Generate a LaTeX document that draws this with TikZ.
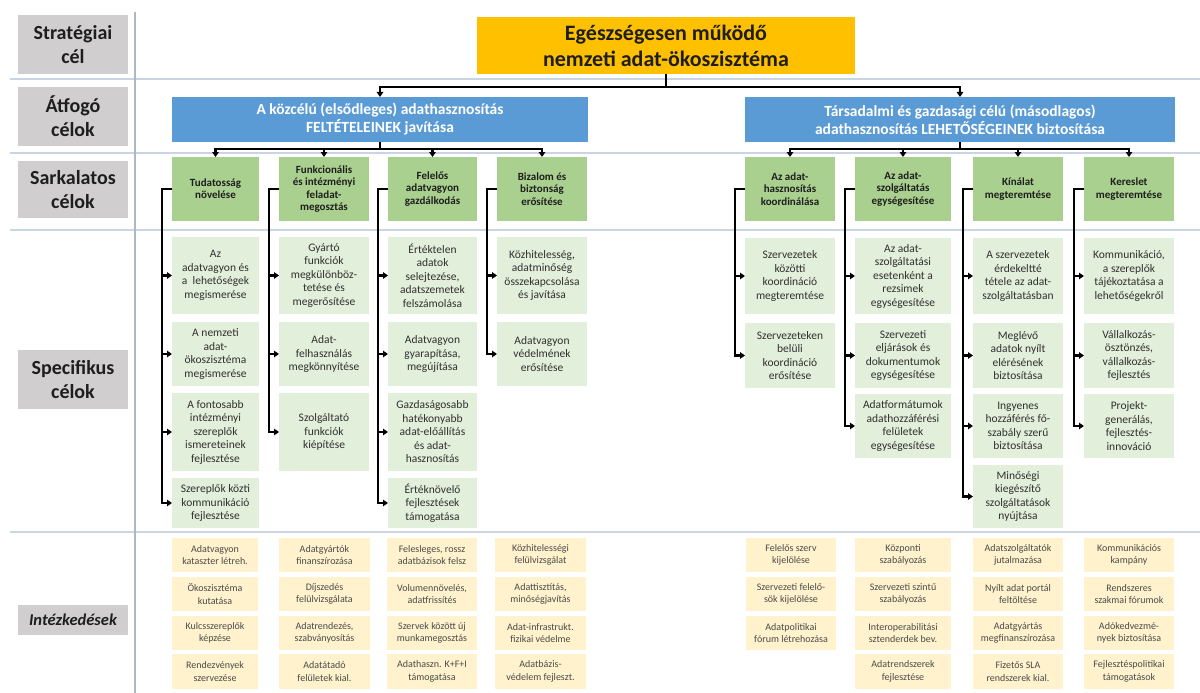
\documentclass[tikz,border=0pt]{standalone}
\usepackage{fontspec}
\setmainfont{Carlito}
\usetikzlibrary{arrows.meta}

\definecolor{lblgray}{HTML}{D0CECE}
\definecolor{goalfill}{HTML}{FFC000}
\definecolor{aimfill}{HTML}{5B9BD5}
\definecolor{keyfill}{HTML}{A9D08E}
\definecolor{specfill}{HTML}{E2EFDA}
\definecolor{actfill}{HTML}{FFF2CC}
\definecolor{sepline}{HTML}{C9D5E3}
\definecolor{divline}{HTML}{AAB7C7}
\definecolor{darktext}{HTML}{1E1E1E}
\definecolor{spectext}{HTML}{303030}
\definecolor{acttext}{HTML}{4A4A4A}

\tikzset{
  box/.style={anchor=north west, inner sep=0pt, outer sep=0pt, align=center},
  lbl/.style={box, fill=lblgray, text=darktext, minimum width=110pt,
    font=\fontsize{20}{24}\selectfont\bfseries},
  goal/.style={box, fill=goalfill, text=darktext,
    font=\fontsize{22}{26}\selectfont\bfseries},
  aim/.style={box, fill=aimfill, text=white,
    font=\fontsize{15.5}{18}\selectfont\bfseries},
  keygoal/.style={box, fill=keyfill, text=darktext, minimum height=64pt,
    font=\fontsize{11}{12.2}\selectfont\bfseries},
  spec/.style={box, fill=specfill, text=spectext,
    font=\fontsize{11.5}{13.5}\selectfont},
  act/.style={box, fill=actfill, text=acttext,
    font=\fontsize{10}{12.6}\selectfont},
  conn/.style={draw=black, line width=2.2pt,
    -{Triangle[length=5pt,width=6.5pt]}},
  sep/.style={draw=sepline, line width=2.6pt},
  divider/.style={draw=divline, line width=1.2pt},
}

\begin{document}
\begin{tikzpicture}[x=1pt,y=-1pt]
\useasboundingbox (0,0) rectangle (1200,693);

% row separators and the label column divider
\foreach \yy in {79,153,230,532}
  \draw[sep] (10,\yy) -- (1200,\yy);
\draw[divider] (135,12) -- (135,693);

% row labels
\node[lbl, minimum height=59pt] (lstrat) at (18,15) {Stratégiai\\cél};
\node[lbl, minimum height=59pt] (latf) at (18,87) {Átfogó\\célok};
\node[lbl, minimum height=57pt] (lsark) at (18,161) {Sarkalatos\\célok};
\node[lbl, minimum height=59pt] (lspec) at (18,350) {Specifikus\\célok};
\node[lbl, minimum height=30pt, font=\fontsize{16.5}{19}\selectfont\bfseries\itshape]
  (lint) at (18,605) {Intézkedések};

% strategic goal
\node[goal, minimum width=378pt, minimum height=57pt] (goal) at (477,17)
  {Egészségesen működő\\nemzeti adat-ökoszisztéma};

% overarching goals
\node[aim, minimum width=416pt, minimum height=45pt] (aimL) at (172,97)
  {A közcélú (elsődleges) adathasznosítás\\FELTÉTELEINEK javítása};
\node[aim, minimum width=430pt, minimum height=45pt] (aimR) at (745,97)
  {Társadalmi és gazdasági célú (másodlagos)\\adathasznosítás LEHETŐSÉGEINEK biztosítása};

% cardinal goals
\node[keygoal, minimum width=87pt] (kL1) at (172,157) {Tudatosság\\növelése};
\node[keygoal, minimum width=90pt] (kL2) at (279,157) {Funkcionális\\és intézményi\\feladat-\\megosztás};
\node[keygoal, minimum width=89pt] (kL3) at (388,157) {Felelős\\adatvagyon\\gazdálkodás};
\node[keygoal, minimum width=90pt] (kL4) at (497,157) {Bizalom és\\biztonság\\erősítése};
\node[keygoal, minimum width=90pt] (kR1) at (745,157) {Az adat-\\hasznosítás\\koordinálása};
\node[keygoal, minimum width=96pt] (kR2) at (855,157) {Az adat-\\szolgáltatás\\egységesítése};
\node[keygoal, minimum width=90pt] (kR3) at (973,157) {Kínálat\\megteremtése};
\node[keygoal, minimum width=90pt] (kR4) at (1084,157) {Kereslet\\megteremtése};

% specific goals, left branch
\node[spec, minimum width=87pt, minimum height=77pt] (sL11) at (172,237) {Az\\adatvagyon és\\a\ \ lehetőségek\\megismerése};
\node[spec, minimum width=87pt, minimum height=64pt] (sL12) at (172,322) {A nemzeti\\adat-\\ökoszisztéma\\megismerése};
\node[spec, minimum width=87pt, minimum height=78pt] (sL13) at (172,393) {A fontosabb\\intézményi\\szereplők\\ismereteinek\\fejlesztése};
\node[spec, minimum width=87pt, minimum height=50pt] (sL14) at (172,478) {Szereplők közti\\kommunikáció\\fejlesztése};

\node[spec, minimum width=90pt, minimum height=77pt] (sL21) at (279,237) {Gyártó\\funkciók\\megkülönböz-\\tetése és\\megerősítése};
\node[spec, minimum width=90pt, minimum height=64pt] (sL22) at (279,322) {Adat-\\felhasználás\\megkönnyítése};
\node[spec, minimum width=90pt, minimum height=78pt] (sL23) at (279,393) {Szolgáltató\\funkciók\\kiépítése};

\node[spec, minimum width=89pt, minimum height=77pt] (sL31) at (388,237) {Értéktelen\\adatok\\selejtezése,\\adatszemetek\\felszámolása};
\node[spec, minimum width=89pt, minimum height=64pt] (sL32) at (388,322) {Adatvagyon\\gyarapítása,\\megújítása};
\node[spec, minimum width=89pt, minimum height=78pt] (sL33) at (388,393) {Gazdaságosabb\\hatékonyabb\\adat-előállítás\\és adat-\\hasznosítás};
\node[spec, minimum width=89pt, minimum height=50pt] (sL34) at (388,478) {Értéknövelő\\fejlesztések\\támogatása};

\node[spec, minimum width=90pt, minimum height=77pt] (sL41) at (497,237) {Közhitelesség,\\adatminőség\\összekapcsolása\\és javítása};
\node[spec, minimum width=90pt, minimum height=64pt] (sL42) at (497,322) {Adatvagyon\\védelmének\\erősítése};

% specific goals, right branch
\node[spec, minimum width=90pt, minimum height=76pt] (sR11) at (745,238) {Szervezetek\\közötti\\koordináció\\megteremtése};
\node[spec, minimum width=90pt, minimum height=65pt] (sR12) at (745,323) {Szervezeteken\\belüli\\koordináció\\erősítése};

\node[spec, minimum width=96pt, minimum height=76pt] (sR21) at (855,238) {Az adat-\\szolgáltatási\\esetenként a\\rezsimek\\egységesítése};
\node[spec, minimum width=96pt, minimum height=65pt] (sR22) at (855,323) {Szervezeti\\eljárások és\\dokumentumok\\egységesítése};
\node[spec, minimum width=96pt, minimum height=64pt] (sR23) at (855,394) {Adatformátumok\\adathozzáférési\\felületek\\egységesítése};

\node[spec, minimum width=90pt, minimum height=76pt] (sR31) at (973,238) {A szervezetek\\érdekeltté\\tétele az adat-\\szolgáltatásban};
\node[spec, minimum width=90pt, minimum height=65pt] (sR32) at (973,323) {Meglévő\\adatok nyílt\\elérésének\\biztosítása};
\node[spec, minimum width=90pt, minimum height=64pt] (sR33) at (973,394) {Ingyenes\\hozzáférés fő-\\szabály szerű\\biztosítása};
\node[spec, minimum width=90pt, minimum height=63pt] (sR34) at (973,465) {Minőségi\\kiegészítő\\szolgáltatások\\nyújtása};

\node[spec, minimum width=90pt, minimum height=76pt] (sR41) at (1084,238) {Kommunikáció,\\a szereplők\\tájékoztatása a\\lehetőségekről};
\node[spec, minimum width=90pt, minimum height=65pt] (sR42) at (1084,323) {Vállalkozás-\\ösztönzés,\\vállalkozás-\\fejlesztés};
\node[spec, minimum width=90pt, minimum height=64pt] (sR43) at (1084,394) {Projekt-\\generálás,\\fejlesztés-\\innováció};

% measures, left branch
\node[act, minimum width=86pt, minimum height=34pt] (aL11) at (172,538) {Adatvagyon\\kataszter létreh.};
\node[act, minimum width=86pt, minimum height=34pt] (aL12) at (172,577) {Ökoszisztéma\\kutatása};
\node[act, minimum width=86pt, minimum height=34pt] (aL13) at (172,616) {Kulcsszereplők\\képzése};
\node[act, minimum width=86pt, minimum height=35pt] (aL14) at (172,654) {Rendezvények\\szervezése};

\node[act, minimum width=91pt, minimum height=34pt] (aL21) at (279,538) {Adatgyártók\\finanszírozása};
\node[act, minimum width=91pt, minimum height=34pt] (aL22) at (279,577) {Díjszedés\\felülvizsgálata};
\node[act, minimum width=91pt, minimum height=34pt] (aL23) at (279,616) {Adatrendezés,\\szabványosítás};
\node[act, minimum width=91pt, minimum height=35pt] (aL24) at (279,654) {Adatátadó\\felületek kial.};

\node[act, minimum width=90pt, minimum height=34pt] (aL31) at (387,538) {Felesleges, rossz\\adatbázisok felsz};
\node[act, minimum width=90pt, minimum height=34pt] (aL32) at (387,577) {Volumennövelés,\\adatfrissítés};
\node[act, minimum width=90pt, minimum height=34pt] (aL33) at (387,616) {Szervek között új\\munkamegosztás};
\node[act, minimum width=90pt, minimum height=35pt] (aL34) at (387,654) {Adathaszn. K+F+I\\támogatása};

\node[act, minimum width=91pt, minimum height=34pt] (aL41) at (495,538) {Közhitelességi\\felülvizsgálat};
\node[act, minimum width=91pt, minimum height=34pt] (aL42) at (495,577) {Adattisztítás,\\minőségjavítás};
\node[act, minimum width=91pt, minimum height=34pt] (aL43) at (495,616) {Adat-infrastrukt.\\fizikai védelme};
\node[act, minimum width=91pt, minimum height=35pt] (aL44) at (495,654) {Adatbázis-\\védelem fejleszt.};

% measures, right branch
\node[act, minimum width=90pt, minimum height=34pt] (aR11) at (746,538) {Felelős szerv\\kijelölése};
\node[act, minimum width=90pt, minimum height=34pt] (aR12) at (746,577) {Szervezeti felelő-\\sök kijelölése};
\node[act, minimum width=90pt, minimum height=34pt] (aR13) at (746,616) {Adatpolitikai\\fórum létrehozása};

\node[act, minimum width=96pt, minimum height=34pt] (aR21) at (855,538) {Központi\\szabályozás};
\node[act, minimum width=96pt, minimum height=34pt] (aR22) at (855,577) {Szervezeti szintű\\szabályozás};
\node[act, minimum width=96pt, minimum height=34pt] (aR23) at (855,616) {Interoperabilitási\\sztenderdek bev.};
\node[act, minimum width=96pt, minimum height=35pt] (aR24) at (855,654) {Adatrendszerek\\fejlesztése};

\node[act, minimum width=90pt, minimum height=34pt] (aR31) at (973,538) {Adatszolgáltatók\\jutalmazása};
\node[act, minimum width=90pt, minimum height=34pt] (aR32) at (973,577) {Nyílt adat portál\\feltöltése};
\node[act, minimum width=90pt, minimum height=34pt] (aR33) at (973,616) {Adatgyártás\\megfinanszírozása};
\node[act, minimum width=90pt, minimum height=35pt] (aR34) at (973,654) {Fizetős SLA\\rendszerek kial.};

\node[act, minimum width=90pt, minimum height=34pt] (aR41) at (1084,538) {Kommunikációs\\kampány};
\node[act, minimum width=90pt, minimum height=34pt] (aR42) at (1084,577) {Rendszeres\\szakmai fórumok};
\node[act, minimum width=90pt, minimum height=34pt] (aR43) at (1084,616) {Adókedvezmé-\\nyek biztosítása};
\node[act, minimum width=90pt, minimum height=35pt] (aR44) at (1084,654) {Fejlesztéspolitikai\\támogatások};

% strategic goal -> overarching goals
\draw[conn] (goal.south) -- ++(0,13) -| (aimL.north);
\draw[conn] (goal.south) -- ++(0,13) -| (aimR.north);

% overarching goals -> cardinal goals
\foreach \k in {kL1,kL2,kL3,kL4}
  \draw[conn] (aimL.south) -- ++(0,7) -| (\k.north);
\foreach \k in {kR1,kR2,kR3,kR4}
  \draw[conn] (aimR.south) -- ++(0,7) -| (\k.north);

% cardinal goals -> specific goals (side brackets)
\foreach \k/\s in {kL1/sL11,kL1/sL12,kL1/sL13,kL1/sL14,
                   kL2/sL21,kL2/sL22,kL2/sL23,
                   kL3/sL31,kL3/sL32,kL3/sL33,kL3/sL34,
                   kL4/sL41,kL4/sL42,
                   kR1/sR11,kR1/sR12,
                   kR2/sR21,kR2/sR22,kR2/sR23,
                   kR3/sR31,kR3/sR32,kR3/sR33,kR3/sR34,
                   kR4/sR41,kR4/sR42,kR4/sR43}
  \draw[conn] (\k.west) -- ++(-10,0) |- (\s.west);
\end{tikzpicture}
\end{document}
